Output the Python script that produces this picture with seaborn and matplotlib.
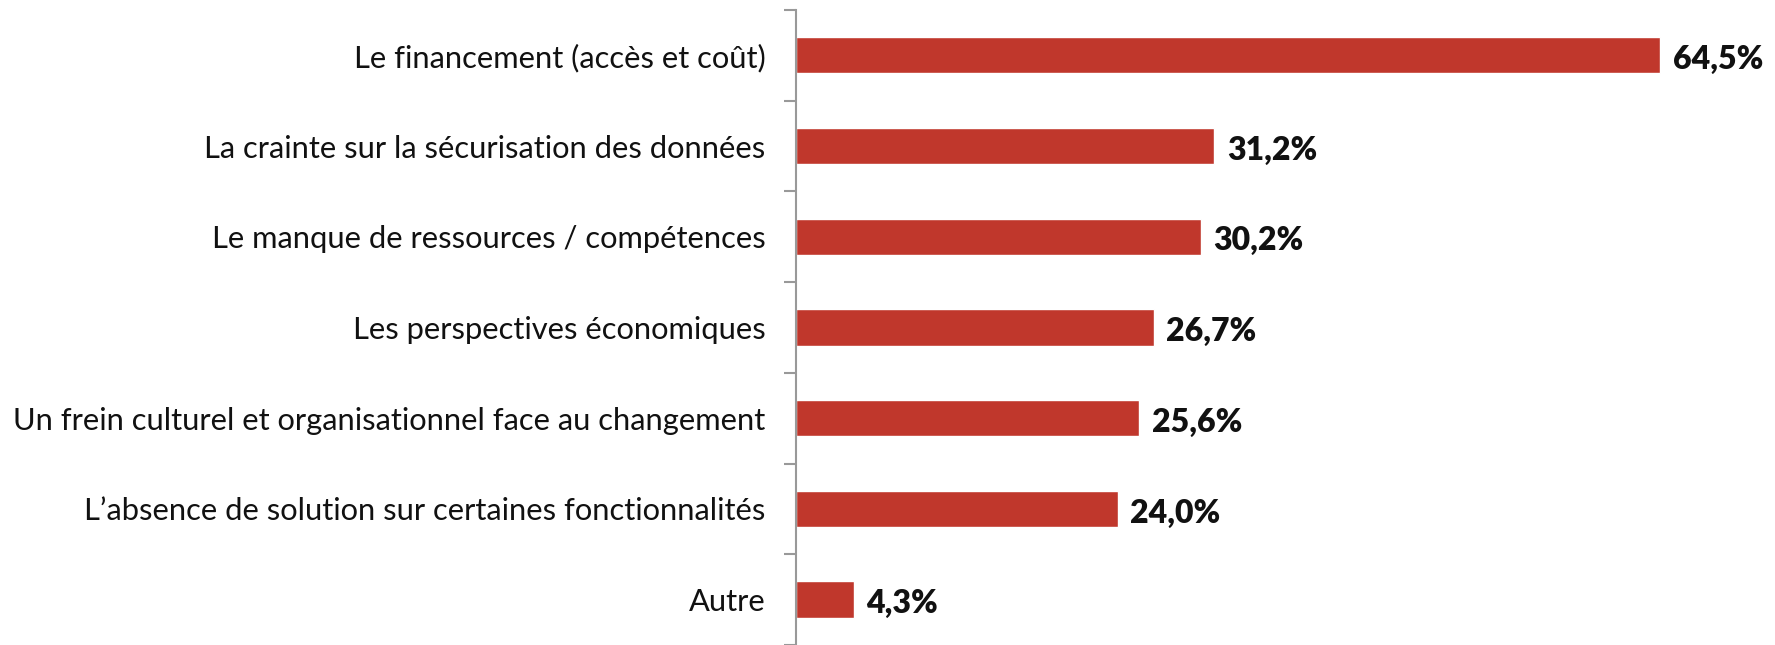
import matplotlib
matplotlib.use("Agg")
import matplotlib.pyplot as plt
import seaborn as sns
import pandas as pd

categories = [
    "Le financement (accès et coût)",
    "La crainte sur la sécurisation des données",
    "Le manque de ressources / compétences",
    "Les perspectives économiques",
    "Un frein culturel et organisationnel face au changement",
    "L\u2019absence de solution sur certaines fonctionnalités",
    "Autre",
]
values = [64.5, 31.2, 30.2, 26.7, 25.6, 24.0, 4.3]

df = pd.DataFrame({"cat": categories, "val": values})

sns.set_style("white")
plt.rcParams["font.family"] = ["Lato", "DejaVu Sans"]

fig = plt.figure(figsize=(17.75, 6.45), dpi=100)
ax = fig.add_axes([0.4485, 0.0, 0.5285, 0.9845])

sns.barplot(data=df, x="val", y="cat", color="#C0372C", width=0.4,
            saturation=1, ax=ax, orient="h")

ax.set_xlim(0, 70)
ax.set_ylim(len(categories) - 0.5, -0.5)
ax.set_xlabel("")
ax.set_ylabel("")
ax.set_xticks([])

# ticks between categories, labels centred on bars
ax.set_yticks([i - 0.5 for i in range(len(categories) + 1)], minor=False)
ax.set_yticklabels([])
ax.tick_params(axis="y", which="major", length=9, width=1.5, color="#999999", left=True)
ax.set_yticks(range(len(categories)), minor=True)
ax.set_yticklabels(categories, minor=True, fontsize=22.2, color="#111111")
ax.tick_params(axis="y", which="minor", length=0, pad=22)

for s in ["top", "right", "bottom"]:
    ax.spines[s].set_visible(False)
ax.spines["left"].set_color("#999999")
ax.spines["left"].set_linewidth(1.5)

for i, v in enumerate(values):
    ax.annotate(f"{v:.1f}%".replace(".", ","), (v, i), xytext=(9, -3),
                textcoords="offset points", ha="left", va="center",
                fontsize=23, fontweight="heavy", color="#111111")

fig.savefig("out.png", dpi=100)
